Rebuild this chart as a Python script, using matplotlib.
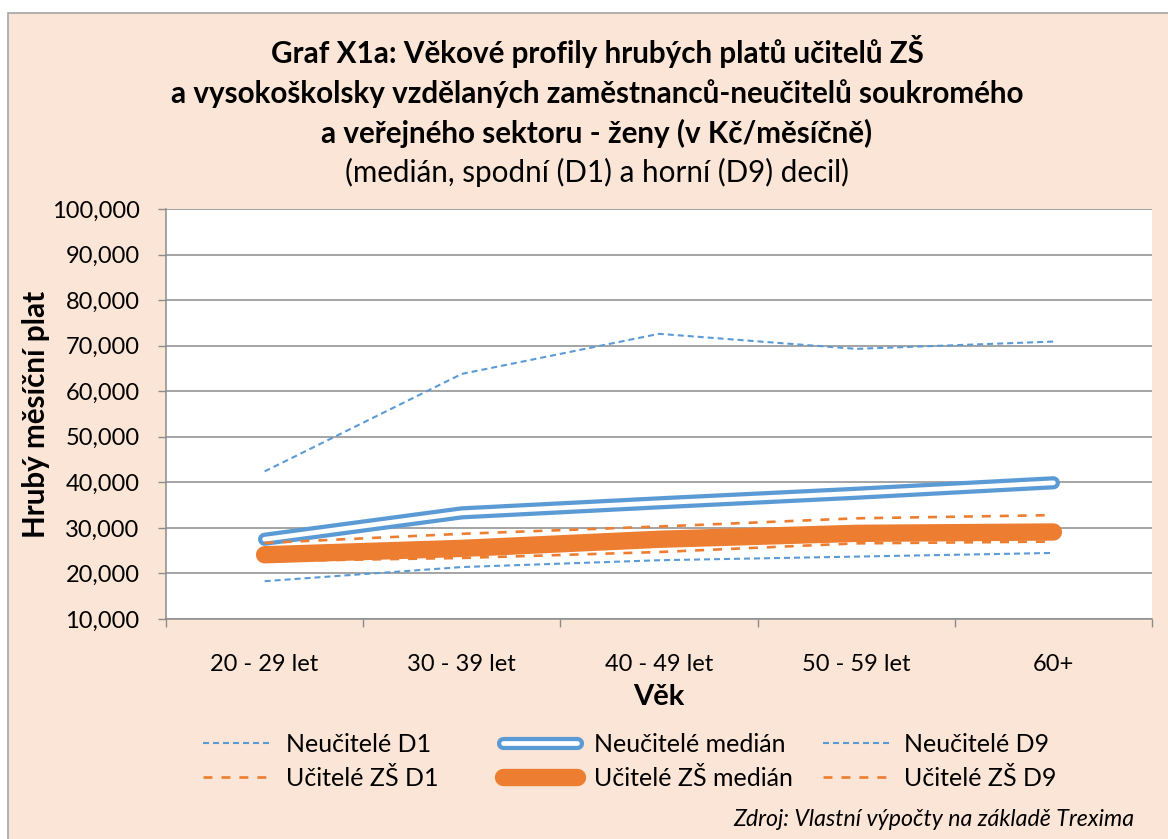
import matplotlib
matplotlib.use("Agg")
import matplotlib.pyplot as plt
import matplotlib.patheffects as pe
from matplotlib.patches import Rectangle
from matplotlib.ticker import FuncFormatter

# Data (Kč/měsíčně)
vek = ["20 - 29 let", "30 - 39 let", "40 - 49 let", "50 - 59 let", "60+"]
neucitele_d1 = [18300, 21400, 22900, 23700, 24500]
neucitele_median = [27500, 33300, 35500, 37600, 39900]
neucitele_d9 = [42400, 63800, 72600, 69300, 70900]
ucitele_d1 = [22700, 23400, 24700, 26600, 27000]
ucitele_median = [24100, 25500, 27500, 28800, 29100]
ucitele_d9 = [26700, 28700, 30300, 32100, 32800]

BLUE = "#5B9BD5"
ORANGE = "#ED7D31"
PEACH = "#FBE5D6"
GRID = "#8C8C8C"

plt.rcParams["font.family"] = ["Lato", "DejaVu Sans"]

W, H = 1168, 839
fig = plt.figure(figsize=(W / 100, H / 100), dpi=100)
fig.patch.set_facecolor("white")

# pozadí grafu (broskvové s šedým okrajem)
fig.patches.append(Rectangle((8 / W, -0.05), 1.1, 1 - 13 / H + 0.05,
                             transform=fig.transFigure, facecolor=PEACH,
                             edgecolor="#A6A6A6", linewidth=1.2, zorder=-5))

ax = fig.add_axes([166 / W, 1 - 619 / H, (1152 - 166) / W, (619 - 209) / H])
ax.set_facecolor("white")

x = list(range(len(vek)))

ax.plot(x, neucitele_d1, color=BLUE, lw=1.5, dashes=(2.9, 1.9), label="Neučitelé D1")
ax.plot(x, neucitele_median, color="white", lw=3.4, solid_capstyle="round",
        solid_joinstyle="round", label="Neučitelé medián",
        path_effects=[pe.Stroke(linewidth=9.5, foreground=BLUE), pe.Normal()])
ax.plot(x, neucitele_d9, color=BLUE, lw=1.5, dashes=(2.9, 1.9), label="Neučitelé D9")
ax.plot(x, ucitele_d1, color=ORANGE, lw=1.9, dashes=(3.4, 3.4), label="Učitelé ZŠ D1")
ax.plot(x, ucitele_median, color=ORANGE, lw=12.5, solid_capstyle="round",
        solid_joinstyle="round", label="Učitelé ZŠ medián")
ax.plot(x, ucitele_d9, color=ORANGE, lw=1.9, dashes=(3.4, 3.4), label="Učitelé ZŠ D9")

ax.set_xlim(-0.5, len(vek) - 0.5)
ax.set_ylim(10000, 100000)
ax.set_yticks(range(10000, 100001, 10000))
ax.yaxis.set_major_formatter(FuncFormatter(lambda v, p: f"{int(v):,}"))
ax.set_xticks(x)
ax.set_xticklabels(vek)
ax.set_xticks([i - 0.5 for i in range(len(vek) + 1)], minor=True)
ax.tick_params(axis="x", which="major", length=0, pad=25, labelsize=17)
ax.tick_params(axis="x", which="minor", length=6, color=GRID, width=1)
ax.tick_params(axis="y", length=6, color=GRID, width=1, pad=13, labelsize=17)

ax.grid(axis="y", color=GRID, lw=1.1)
ax.set_axisbelow(True)
for s in ["top", "right"]:
    ax.spines[s].set_visible(False)
for s in ["left", "bottom"]:
    ax.spines[s].set_color(GRID)
    ax.spines[s].set_linewidth(1.1)

# popisky os
fig.text(0.031, 1 - 414 / H, "Hrubý měsíční plat", rotation=90, ha="center", va="center",
         fontsize=21.3, fontweight="bold")
fig.text(659 / W, 1 - 697 / H, "Věk", ha="center", va="center", fontsize=21, fontweight="bold")

# nadpis
nadpis = ["Graf X1a: Věkové profily hrubých platů učitelů ZŠ",
          "a vysokoškolsky vzdělaných zaměstnanců-neučitelů soukromého",
          "a veřejného sektoru - ženy (v Kč/měsíčně)"]
for radek, yy in zip(nadpis, [52, 94, 133]):
    fig.text(597 / W, 1 - yy / H, radek, ha="center", va="center", fontsize=21.3,
             fontweight="bold")
fig.text(597 / W, 1 - 172 / H, "(medián, spodní (D1) a horní (D9) decil)", ha="center",
         va="center", fontsize=21.3)

# legenda - tři sloupce
handles, labels = ax.get_legend_handles_labels()
sloupce = [(0, 3, 203, 2.7, 0.6), (1, 4, 503, 2.95, 0.68), (2, 5, 823, 2.7, 0.56)]
for a, b, xx, hl, tp in sloupce:
    fig.legend([handles[a], handles[b]], [labels[a], labels[b]],
               loc="center left", bbox_to_anchor=(xx / W, 1 - 761 / H),
               frameon=False, fontsize=18, handlelength=hl, handletextpad=tp,
               labelspacing=0.44, borderpad=0, borderaxespad=0)

fig.text(1134 / W, 1 - 820 / H, "Zdroj: Vlastní výpočty na základě Trexima", ha="right",
         va="center", fontsize=16.7, fontstyle="italic")

fig.savefig("out.png", dpi=100)
